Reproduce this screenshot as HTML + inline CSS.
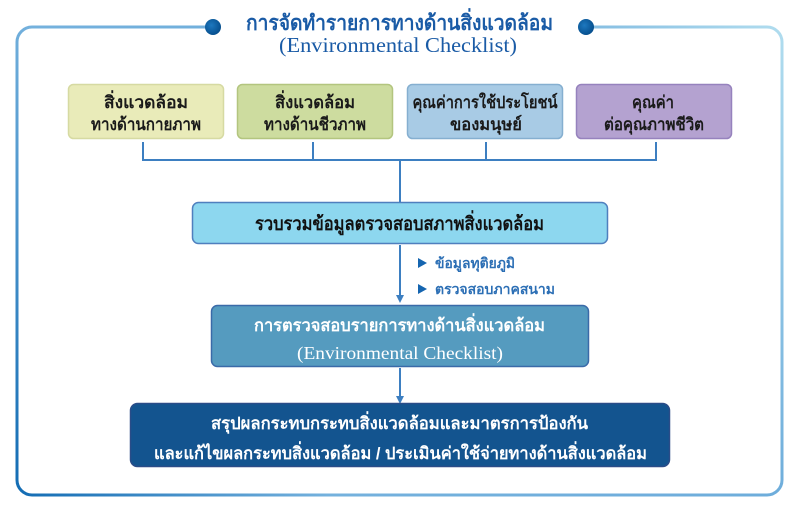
<!DOCTYPE html>
<html><head><meta charset="utf-8"><style>
html,body{margin:0;padding:0;background:#fff;width:800px;height:512px;overflow:hidden}
svg{display:block}
.th{font-family:"Liberation Sans","DejaVu Sans","Noto Sans CJK JP",sans-serif}
.sf{font-family:"Liberation Serif",serif}
</style></head><body>
<svg width="800" height="512" viewBox="0 0 800 512" xmlns="http://www.w3.org/2000/svg">
<defs>
<linearGradient id="fr" gradientUnits="userSpaceOnUse" x1="0" y1="512" x2="800" y2="0">
<stop offset="0" stop-color="#0a66b0"/>
<stop offset="0.3" stop-color="#74b1dd"/>
<stop offset="0.7" stop-color="#6eaddb"/>
<stop offset="1" stop-color="#b8e2f1"/>
</linearGradient>
<radialGradient id="dot" cx="0.4" cy="0.4" r="0.6">
<stop offset="0" stop-color="#1d78bf"/>
<stop offset="1" stop-color="#07508f"/>
</radialGradient>
</defs>
<!-- frame -->
<path d="M213,27 L32,27 A15,15 0 0 0 17,42 L17,480 A15,15 0 0 0 32,495 L767,495 A15,15 0 0 0 782,480 L782,42 A15,15 0 0 0 767,27 L586,27" fill="none" stroke="url(#fr)" stroke-width="3"/>
<circle cx="213" cy="27" r="8" fill="url(#dot)"/>
<circle cx="586" cy="27" r="8" fill="url(#dot)"/>
<!-- title -->
<text x="246" y="30" textLength="307" lengthAdjust="spacingAndGlyphs" class="th" font-size="21" font-weight="bold" fill="#1a5ba6">การจัดทำรายการทางด้านสิ่งแวดล้อม</text>
<text x="279" y="52" textLength="238" lengthAdjust="spacingAndGlyphs" class="sf" font-size="21" fill="#1a5ba6">(Environmental Checklist)</text>
<!-- top boxes -->
<rect x="68.5" y="84.5" width="155" height="54" rx="5" fill="#e9ebb9" stroke="#d6daa2" stroke-width="1.5"/>
<rect x="237.5" y="84.5" width="155" height="54" rx="5" fill="#cddc9f" stroke="#b3c57f" stroke-width="1.5"/>
<rect x="407.5" y="84.5" width="155" height="54" rx="5" fill="#a8cbe5" stroke="#85afd0" stroke-width="1.5"/>
<rect x="576.5" y="84.5" width="155" height="54" rx="5" fill="#b4a2d0" stroke="#9682bd" stroke-width="1.5"/>
<g class="th" font-size="17" font-weight="bold" fill="#1a1a1a" text-anchor="middle">
<text x="146" y="108" textLength="84" lengthAdjust="spacingAndGlyphs">สิ่งแวดล้อม</text>
<text x="146" y="130" textLength="110" lengthAdjust="spacingAndGlyphs">ทางด้านกายภาพ</text>
<text x="315" y="108" textLength="80" lengthAdjust="spacingAndGlyphs">สิ่งแวดล้อม</text>
<text x="315" y="130" textLength="102" lengthAdjust="spacingAndGlyphs">ทางด้านชีวภาพ</text>
<text x="485" y="108" textLength="145" lengthAdjust="spacingAndGlyphs">คุณค่าการใช้ประโยชน์</text>
<text x="486" y="130" textLength="72" lengthAdjust="spacingAndGlyphs">ของมนุษย์</text>
<text x="653" y="108" textLength="42" lengthAdjust="spacingAndGlyphs">คุณค่า</text>
<text x="654" y="130" textLength="100" lengthAdjust="spacingAndGlyphs">ต่อคุณภาพชีวิต</text>
</g>
<!-- connectors -->
<g stroke="#3d7fc1" stroke-width="2" fill="none">
<path d="M143,142 V160 M313,142 V160 M486,142 V160 M656,142 V160 M142,160 H657 M400,160 V202"/>
<path d="M400,245 V297"/>
<path d="M400,368 V398"/>
</g>
<path d="M396,295 L404,295 L400,303 Z" fill="#3d7fc1"/>
<path d="M396,396 L404,396 L400,404 Z" fill="#3d7fc1"/>
<!-- middle box 1 -->
<rect x="192.5" y="202.5" width="415" height="41" rx="6" fill="#8dd7ef" stroke="#4f7fbe" stroke-width="1.5"/>
<text x="255" y="230" textLength="289" lengthAdjust="spacingAndGlyphs" class="th" font-size="19" font-weight="bold" fill="#111">รวบรวมข้อมูลตรวจสอบสภาพสิ่งแวดล้อม</text>
<!-- bullets -->
<path d="M418,258 L427,263 L418,268 Z" fill="#1565b0"/>
<path d="M418,284 L427,289 L418,294 Z" fill="#1565b0"/>
<text x="435" y="268" textLength="80" lengthAdjust="spacingAndGlyphs" class="th" font-size="14" font-weight="bold" fill="#2c6fb5">ข้อมูลทุติยภูมิ</text>
<text x="435" y="294" textLength="120" lengthAdjust="spacingAndGlyphs" class="th" font-size="14" font-weight="bold" fill="#2c6fb5">ตรวจสอบภาคสนาม</text>
<!-- middle box 2 -->
<rect x="211.5" y="305.5" width="377" height="61" rx="6" fill="#559bbf" stroke="#3a6aa8" stroke-width="1.5"/>
<text x="254" y="331" textLength="291" lengthAdjust="spacingAndGlyphs" class="th" font-size="17" font-weight="bold" fill="#fff">การตรวจสอบรายการทางด้านสิ่งแวดล้อม</text>
<text x="297" y="359" textLength="206" lengthAdjust="spacingAndGlyphs" class="sf" font-size="18" fill="#fff">(Environmental Checklist)</text>
<!-- bottom box -->
<rect x="130.5" y="403.5" width="539" height="63" rx="7" fill="#13548f" stroke="#2a4c88" stroke-width="1.5"/>
<text x="211" y="429" textLength="377" lengthAdjust="spacingAndGlyphs" class="th" font-size="17" font-weight="bold" fill="#fff">สรุปผลกระทบกระทบสิ่งแวดล้อมและมาตรการป้องกัน</text>
<text x="154" y="459" textLength="493" lengthAdjust="spacingAndGlyphs" class="th" font-size="17" font-weight="bold" fill="#fff">และแก้ไขผลกระทบสิ่งแวดล้อม / ประเมินค่าใช้จ่ายทางด้านสิ่งแวดล้อม</text>
</svg>
</body></html>
